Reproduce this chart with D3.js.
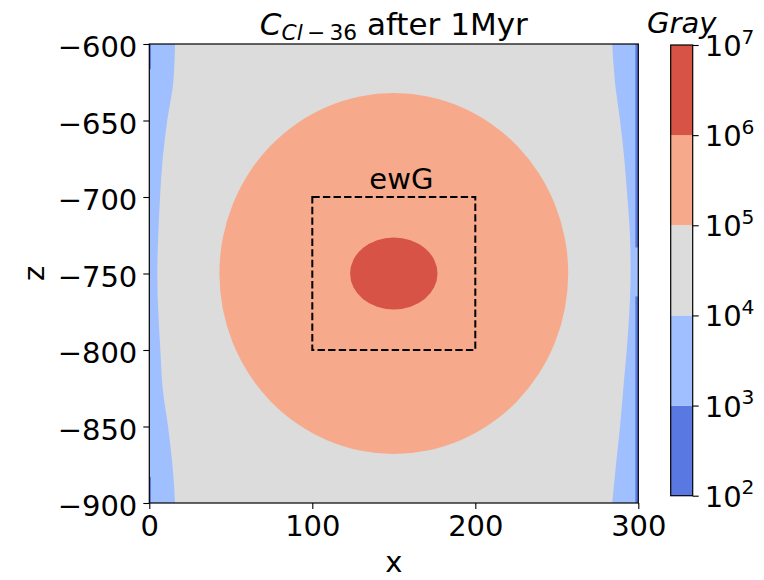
<!DOCTYPE html>
<html><head><meta charset="utf-8">
<script src="https://cdn.jsdelivr.net/npm/d3@7"></script>
<style>
body{margin:0;background:#fff}
svg{display:block}
text{font-family:"DejaVu Sans",sans-serif;fill:#000}
</style>
</head><body>
<svg id="c" width="764" height="580"></svg>
<script>
// ---- data ----
const xDomain = [0, 300];
const zDomain = [-900, -600];
const xTicks = [0, 100, 200, 300];
const zTicks = [-600, -650, -700, -750, -800, -850, -900];
const levels = [1e2, 1e3, 1e4, 1e5, 1e6, 1e7];
const levelExponents = [2, 3, 4, 5, 6, 7];
const levelColors = ["#5a78e2", "#a0bffe", "#dcdcdc", "#f6aa8b", "#d75345"];

// boundary of the 1e3–1e4 band along the side walls (x at each z)
const bandZ      = [-600, -625, -650, -675, -700, -725, -750, -775, -800, -825, -850, -875, -900];
const leftBandX  = [15.8, 14.7, 11.0, 8.2, 6.6, 5.5, 4.9, 5.5, 6.8, 8.2, 11.5, 14.2, 15.8];
const rightBandX = [284.0, 285.7, 288.8, 291.4, 293.3, 294.9, 295.3, 294.5, 292.9, 290.8, 288.8, 286.3, 284.0];

// thin 1e2–1e3 strips on the walls
const leftDarkX = [0, 1.0];
const leftDarkZ = [[-616.5, -600], [-900, -883]];
const rightDarkX = [298.2, 300];
const rightDarkZ = [[-733, -600], [-900, -765]];

// closed contours around the source (1e5–1e6 and 1e6–1e7)
const ellipseLevel = [3, 4];
const ellipseCX = [150, 150];
const ellipseCZ = [-750, -750];
const ellipseRX = [107, 26.8];
const ellipseRZ = [118, 23.6];

// ewG box
const boxX = [100, 200];
const boxZ = [-800, -700];
const boxLabel = "ewG";
const boxLabelPos = [135, -695];

// ---- drawing ----
const svg = d3.select("#c");
const fs = 29;
const x = d3.scaleLinear().domain(xDomain).range([149.3, 638.3]);
const z = d3.scaleLinear().domain(zDomain).range([503, 44]);

const plot = svg.append("g");
// background level (1e4–1e5)
plot.append("rect")
  .attr("x", x(xDomain[0])).attr("y", z(zDomain[1]))
  .attr("width", x(xDomain[1]) - x(xDomain[0]))
  .attr("height", z(zDomain[0]) - z(zDomain[1]))
  .attr("fill", levelColors[2]);

const curve = d3.line().x(d => x(d[0])).y(d => z(d[1])).curve(d3.curveMonotoneY);
function bandPath(wallX, bx) {
  const pts = bx.map((v, i) => [v, bandZ[i]]);
  const inner = curve(pts).replace(/^M/, "L");
  return `M${x(wallX)},${z(bandZ[0])}` + inner + `L${x(wallX)},${z(bandZ[bandZ.length - 1])}Z`;
}
plot.append("path").attr("d", bandPath(xDomain[0], leftBandX)).attr("fill", levelColors[1]);
plot.append("path").attr("d", bandPath(xDomain[1], rightBandX)).attr("fill", levelColors[1]);

leftDarkZ.forEach(r => {
  plot.append("rect").attr("x", x(leftDarkX[0])).attr("width", x(leftDarkX[1]) - x(leftDarkX[0]))
    .attr("y", z(r[1])).attr("height", z(r[0]) - z(r[1])).attr("fill", levelColors[0]);
});
rightDarkZ.forEach(r => {
  plot.append("rect").attr("x", x(rightDarkX[0])).attr("width", x(rightDarkX[1]) - x(rightDarkX[0]))
    .attr("y", z(r[1])).attr("height", z(r[0]) - z(r[1])).attr("fill", levelColors[0]);
});
ellipseLevel.forEach((lv, i) => {
  plot.append("ellipse")
    .attr("cx", x(ellipseCX[i])).attr("cy", z(ellipseCZ[i]))
    .attr("rx", x(ellipseCX[i] + ellipseRX[i]) - x(ellipseCX[i]))
    .attr("ry", z(ellipseCZ[i]) - z(ellipseCZ[i] + ellipseRZ[i]))
    .attr("fill", levelColors[lv]);
});

// dashed box
plot.append("rect")
  .attr("x", x(boxX[0])).attr("y", z(boxZ[1]))
  .attr("width", x(boxX[1]) - x(boxX[0])).attr("height", z(boxZ[0]) - z(boxZ[1]))
  .attr("fill", "none").attr("stroke", "#000").attr("stroke-width", 2)
  .attr("stroke-dasharray", "7.4,3.2");
plot.append("text").attr("x", x(boxLabelPos[0])).attr("y", z(boxLabelPos[1]))
  .attr("font-size", fs).text(boxLabel);

// axes
const fmt = d3.format("");
const gx = svg.append("g").attr("transform", `translate(0,${z(zDomain[0])})`)
  .call(d3.axisBottom(x).tickValues(xTicks).tickSize(6).tickPadding(6).tickSizeOuter(0).tickFormat(fmt));
const gz = svg.append("g").attr("transform", `translate(${x(xDomain[0])},0)`)
  .call(d3.axisLeft(z).tickValues(zTicks).tickSize(6).tickPadding(6).tickSizeOuter(0).tickFormat(fmt));
[gx, gz].forEach(g => {
  g.select(".domain").remove();
  g.selectAll(".tick line").attr("stroke", "#000").attr("stroke-width", 1.1);
  g.selectAll(".tick text").attr("font-size", fs).attr("font-family", "DejaVu Sans").attr("fill", "#000");
});
gz.selectAll(".tick text").attr("dy", "0.44em");
gx.selectAll(".tick text").attr("dy", "0.72em");

svg.append("rect")
  .attr("x", x(xDomain[0])).attr("y", z(zDomain[1]))
  .attr("width", x(xDomain[1]) - x(xDomain[0])).attr("height", z(zDomain[0]) - z(zDomain[1]))
  .attr("fill", "none").attr("stroke", "#000").attr("stroke-width", 1.2);

// axis labels
svg.append("text").attr("x", (x(xDomain[0]) + x(xDomain[1])) / 2).attr("y", 572)
  .attr("text-anchor", "middle").attr("font-size", fs).text("x");
svg.append("text").attr("transform", `translate(44,${(z(zDomain[0]) + z(zDomain[1])) / 2}) rotate(-90)`)
  .attr("text-anchor", "middle").attr("font-size", fs).text("z");

// title
const tfs = 31;
const title = svg.append("text").attr("x", (x(xDomain[0]) + x(xDomain[1])) / 2).attr("y", 35)
  .attr("text-anchor", "middle").attr("font-size", tfs);
title.append("tspan").attr("font-style", "italic").text("C");
title.append("tspan").attr("font-size", tfs * 0.7).attr("dy", 5).attr("font-style", "italic").text("Cl");
title.append("tspan").attr("font-size", tfs * 0.7).text("\u2009\u2212\u200936");
title.append("tspan").attr("dy", -5).text(" after 1Myr");

// colorbar
const cbX0 = 670.7, cbX1 = 692.7;
const c = d3.scaleLog().domain([levels[0], levels[levels.length - 1]]).range([495.7, 45]);
const cb = svg.append("g");
levelColors.forEach((col, i) => {
  cb.append("rect").attr("x", cbX0).attr("width", cbX1 - cbX0)
    .attr("y", c(levels[i + 1])).attr("height", c(levels[i]) - c(levels[i + 1]))
    .attr("fill", col);
});
cb.append("rect").attr("x", cbX0).attr("width", cbX1 - cbX0)
  .attr("y", c(levels[levels.length - 1])).attr("height", c(levels[0]) - c(levels[levels.length - 1]))
  .attr("fill", "none").attr("stroke", "#000").attr("stroke-width", 1.2);
const gc = svg.append("g").attr("transform", `translate(${cbX1},0)`)
  .call(d3.axisRight(c).tickValues(levels).tickSize(6).tickPadding(6).tickFormat(() => ""));
gc.select(".domain").remove();
gc.selectAll(".tick line").attr("stroke", "#000").attr("stroke-width", 1.1);
gc.selectAll(".tick").each(function(d, i) {
  const t = d3.select(this).select("text").text(null)
    .attr("font-size", fs).attr("font-family", "DejaVu Sans").attr("fill", "#000")
    .attr("x", 12).attr("dy", "0.36em");
  t.append("tspan").text("10");
  t.append("tspan").attr("font-size", fs * 0.7).attr("dy", -12.3).text(levelExponents[i]);
});
svg.append("text").attr("x", (cbX0 + cbX1) / 2).attr("y", 33)
  .attr("text-anchor", "middle").attr("font-size", fs).attr("font-style", "italic").text("Gray");
</script>
</body></html>
